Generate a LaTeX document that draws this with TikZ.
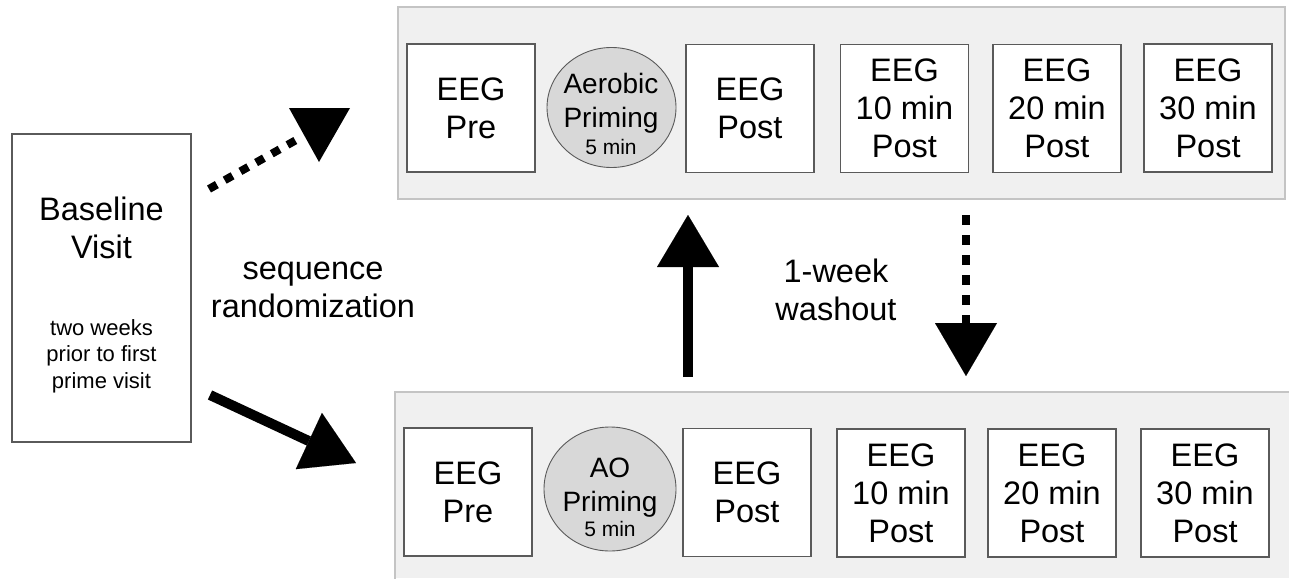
\documentclass[tikz,border=0pt]{standalone}
\usepackage{fontspec}
\setmainfont{Liberation Sans}
\usetikzlibrary{arrows.meta,shapes.geometric}
\definecolor{panelfill}{HTML}{F0F0F0}
\definecolor{panelline}{HTML}{C4C4C4}
\definecolor{boxline}{HTML}{5A5A5A}
\definecolor{circfill}{HTML}{D8D8D8}
\tikzset{
  big/.style={font=\fontsize{32.5}{38}\selectfont},
  eegbox/.style={draw=boxline, line width=1.1pt, fill=white, minimum width=128pt, minimum height=128pt, inner sep=0pt, align=center, big},
  primecirc/.style={ellipse, draw=boxline, line width=0.9pt, fill=circfill, inner sep=0pt},
  primetxt/.style={align=center, font=\fontsize{28}{34}\selectfont},
  small/.style={font=\fontsize{21}{24}\selectfont},
  basebox/.style={draw=boxline, line width=1.1pt, fill=white, minimum width=179pt, minimum height=308pt, inner sep=0pt},
  lbl/.style={align=center, big},
  solidarrow/.style={line width=10pt, -{Triangle[length=52pt, width=62pt, line width=0.01pt]}},
  dotline/.style={line width=8pt, dash pattern=on 9pt off 9pt},
  dotarrow/.style={line width=8pt, dash pattern=on 10pt off 10pt, -{Triangle[length=53pt, width=62pt, line width=0.01pt]}},
}
\begin{document}
\begin{tikzpicture}[x=1pt, y=-1pt]
\useasboundingbox (0,0) rectangle (1289,578);
% panels
\fill[panelfill] (398,7) rectangle (1285,199);
\draw[panelline, line width=1.2pt] (398,7) rectangle (1285,199);
\fill[panelfill] (395,392) rectangle (1289,578);
\draw[panelline, line width=1.2pt] (395,580) -- (395,392) -- (1289,392);

% baseline box
\node[basebox] (base) at (101.5,288) {};
\node[big, align=center] (basetxt) at (101.5,228) {Baseline\\Visit};
\node[align=center, font=\fontsize{22}{26.5}\selectfont] (basesub) at (101.5,356) {two weeks\\prior to first\\prime visit};

% top row
\node[eegbox] (tpre) at (471,108) {EEG\\Pre};
\node[primecirc, minimum width=129pt, minimum height=120pt] (tprime) at (611.5,107.5) {};
\node[primetxt] (tprimetxt) at (611,113.5) {Aerobic\\Priming\\[-7pt]{\small\fontsize{21}{24}\selectfont 5 min}};
\node[eegbox] (tpost) at (750,108.5) {EEG\\Post};
\node[eegbox] (t10) at (904.5,108.5) {EEG\\10 min\\Post};
\node[eegbox] (t20) at (1057,108.5) {EEG\\20 min\\Post};
\node[eegbox] (t30) at (1208,108) {EEG\\30 min\\Post};

% bottom row
\node[eegbox] (bpre) at (468,492) {EEG\\Pre};
\node[primecirc, minimum width=132pt, minimum height=124pt] (bprime) at (610,489) {};
\node[primetxt] (bprimetxt) at (610,497) {AO\\Priming\\[-9pt]{\fontsize{21}{24}\selectfont 5 min}};
\node[eegbox] (bpost) at (747,492.5) {EEG\\Post};
\node[eegbox] (b10) at (901,493) {EEG\\10 min\\Post};
\node[eegbox] (b20) at (1052,493) {EEG\\20 min\\Post};
\node[eegbox] (b30) at (1205,493) {EEG\\30 min\\Post};

% labels
\node[lbl] (seq) at (313,290) {sequence\\randomization};
\node[lbl] (wash) at (836,290) {1-week\\washout};

% arrows
\coordinate (d1s) at (209,189);
\coordinate (d1e) at (298,139);
\draw[dotline] (d1s) -- (d1e);
\fill (289,108) -- (350,108) -- (319,162) -- cycle;

\coordinate (s1s) at (210,395);
\coordinate (s1e) at (356,463);
\draw[solidarrow] (s1s) -- (s1e);

\coordinate (upS) at (688,377);
\coordinate (upE) at (688,215);
\draw[solidarrow] (upS) -- (upE);

\coordinate (dnS) at (966,215);
\coordinate (dnE) at (966,376);
\draw[dotarrow] (dnS) -- (dnE);
\end{tikzpicture}
\end{document}
